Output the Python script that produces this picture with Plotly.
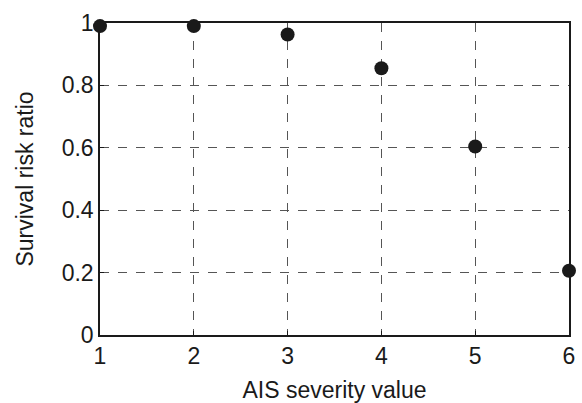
import plotly.graph_objects as go

ais_severity = [1, 2, 3, 4, 5, 6]
survival_ratio = [0.99, 0.99, 0.963, 0.855, 0.604, 0.206]
x_ticks = [1, 2, 3, 4, 5, 6]
y_ticks = [0, 0.2, 0.4, 0.6, 0.8, 1]
y_tick_labels = ["0", "0.2", "0.4", "0.6", "0.8", "1"]

fig = go.Figure()
fig.add_trace(go.Scatter(
    x=ais_severity, y=survival_ratio, mode="markers",
    marker=dict(size=14, color="#1a1a1a"),
    cliponaxis=False, showlegend=False,
))

font = dict(family="Liberation Sans, Arial, sans-serif", size=23, color="#1a1a1a")
fig.update_layout(
    width=582, height=403,
    margin=dict(l=100, r=13, t=23, b=68),
    paper_bgcolor="white", plot_bgcolor="white",
    font=font,
)
fig.update_xaxes(
    range=[1, 6], tickvals=x_ticks, ticktext=[str(v) for v in x_ticks],
    showline=True, linecolor="#1a1a1a", linewidth=1.5, mirror=True,
    ticks="inside", ticklen=4, tickcolor="#1a1a1a",
    showgrid=True, gridcolor="#555555", griddash="dash", gridwidth=1,
    zeroline=False, automargin=False,
    title=dict(text="AIS severity value", font=font, standoff=14),
    tickfont=font,
)
fig.update_yaxes(
    range=[0, 1], tickvals=y_ticks, ticktext=y_tick_labels,
    showline=True, linecolor="#1a1a1a", linewidth=1.5, mirror=True,
    ticks="inside", ticklen=4, tickcolor="#1a1a1a",
    showgrid=True, gridcolor="#555555", griddash="dash", gridwidth=1,
    zeroline=False, automargin=False,
    title=dict(text="Survival risk ratio", font=font, standoff=22),
    tickfont=font,
)
fig.write_html("out.html", config={"displayModeBar": False},
               post_script="document.body.style.margin='0';")
